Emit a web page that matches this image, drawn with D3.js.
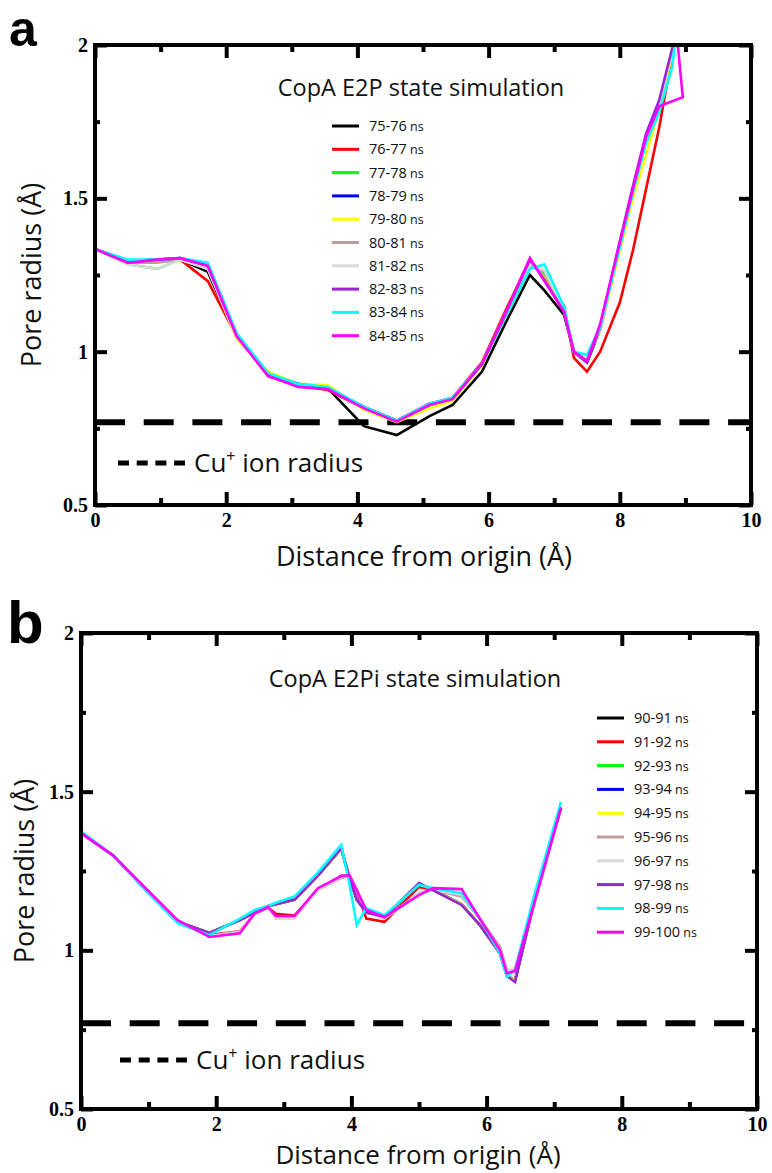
<!DOCTYPE html>
<html>
<head>
<meta charset="utf-8">
<script src="https://cdn.jsdelivr.net/npm/d3@7"></script>
<style>
  body { margin: 0; background: #fff; }
  svg { display: block; }
</style>
</head>
<body>
<svg id="chart" width="772" height="1173"></svg>
<script>
// ---- data ----
const colors = ["#000000", "#ff0000", "#00ff00", "#0000ff", "#ffff00",
                "#c09c9a", "#d9d9d9", "#9a22d8", "#00ffff", "#ff00ff"];
const cuRadius = 0.77;

const labelsA = ["75-76", "76-77", "77-78", "78-79", "79-80", "80-81", "81-82", "82-83", "83-84", "84-85"];
const xA = [0, 0.5, 0.95, 1.3, 1.72, 2.16, 2.64, 3.1, 3.55, 4.1, 4.6, 5.1, 5.45, 5.9, 6.25,
            6.63, 6.85, 7.15, 7.3, 7.5, 7.7, 8.0, 8.2, 8.4, 8.6, 8.8, 9.0];
const a75 = [1.335, 1.295, 1.30, 1.30, 1.26, 1.05, 0.925, 0.895, 0.88, 0.757, 0.728, 0.79, 0.826, 0.935, 1.09,
             1.25, 1.2, 1.12, 1.0, 0.965, 1.07, 1.34, 1.52, 1.69, 1.81, 1.98, 2.2];
const a76 = [1.335, 1.295, 1.30, 1.30, 1.23, 1.05, 0.92, 0.89, 0.875, 0.815, 0.775, 0.83, 0.85, 0.965, 1.13,
             1.30, 1.24, 1.15, 0.98, 0.935, 1.0, 1.16, 1.33, 1.53, 1.73, 1.97, 2.2];
const a77 = [1.335, 1.285, 1.27, 1.30, 1.28, 1.05, 0.925, 0.89, 0.88, 0.815, 0.775, 0.825, 0.845, 0.96, 1.12,
             1.29, 1.25, 1.13, 1.0, 0.975, 1.07, 1.35, 1.52, 1.69, 1.81, 1.98, 2.2];
const a78 = [1.335, 1.29, 1.30, 1.305, 1.28, 1.055, 0.925, 0.89, 0.88, 0.82, 0.775, 0.83, 0.848, 0.96, 1.12,
             1.30, 1.24, 1.13, 1.0, 0.97, 1.08, 1.35, 1.53, 1.70, 1.81, 1.98, 2.2];
const a79 = [1.335, 1.29, 1.295, 1.30, 1.275, 1.04, 0.935, 0.895, 0.89, 0.81, 0.77, 0.815, 0.84, 0.955, 1.12,
             1.30, 1.24, 1.13, 1.0, 0.975, 1.07, 1.33, 1.50, 1.64, 1.79, 1.97, 2.2];
const a80 = [1.335, 1.29, 1.29, 1.30, 1.27, 1.05, 0.925, 0.89, 0.88, 0.815, 0.775, 0.83, 0.848, 0.96, 1.12,
             1.28, 1.26, 1.14, 1.0, 0.975, 1.07, 1.35, 1.52, 1.69, 1.81, 1.98, 2.2];
const a81 = [1.335, 1.285, 1.27, 1.30, 1.27, 1.045, 0.925, 0.89, 0.88, 0.815, 0.775, 0.83, 0.848, 0.96, 1.12,
             1.285, 1.265, 1.14, 1.0, 0.975, 1.07, 1.35, 1.52, 1.69, 1.81, 1.98, 2.2];
const a82 = [1.335, 1.29, 1.30, 1.305, 1.28, 1.055, 0.925, 0.895, 0.88, 0.82, 0.775, 0.83, 0.848, 0.96, 1.12,
             1.30, 1.235, 1.13, 1.0, 0.965, 1.08, 1.36, 1.54, 1.71, 1.82, 1.99, 2.2];
const a83 = [1.335, 1.30, 1.30, 1.305, 1.29, 1.06, 0.93, 0.895, 0.885, 0.82, 0.775, 0.83, 0.85, 0.96, 1.11,
             1.27, 1.285, 1.146, 1.0, 0.99, 1.08, 1.34, 1.52, 1.68, 1.78, 1.93, 2.3];
const a84 = [1.335, 1.29, 1.30, 1.305, 1.28, 1.05, 0.92, 0.885, 0.878, 0.815, 0.772, 0.826, 0.845, 0.96, 1.12,
             1.305, 1.23, 1.13, 1.0, 0.97, 1.09, 1.356, 1.53, 1.70, 1.80, null, null];
// the last profile folds back on itself near the mouth
const a84tail = [[8.96, 1.83], [8.84, 2.1]];
const seriesA = [a75, a76, a77, a78, a79, a80, a81, a82, a83, a84];
const tailsA = [null, null, null, null, null, null, null, null, null, a84tail];

const labelsB = ["90-91", "91-92", "92-93", "93-94", "94-95", "95-96", "96-97", "97-98", "98-99", "99-100"];
const xB = [0, 0.47, 0.95, 1.43, 1.9, 2.35, 2.57, 2.77, 2.88, 3.16, 3.5, 3.85, 3.97, 4.08, 4.22,
            4.49, 5.0, 5.21, 5.63, 5.9, 6.2, 6.3, 6.42, 6.7, 7.1];
const b90 = [1.37, 1.30, 1.195, 1.09, 1.055, 1.095, 1.12, 1.14, 1.145, 1.16, 1.235, 1.32, 1.23, 1.16, 1.12,
             1.105, 1.21, 1.19, 1.145, 1.08, 0.99, 0.92, 0.905, 1.15, 1.45];
const b91 = [1.37, 1.30, 1.195, 1.09, 1.048, 1.06, 1.115, 1.135, 1.115, 1.11, 1.19, 1.235, 1.235, 1.19, 1.10,
             1.09, 1.2, 1.19, 1.175, 1.10, 1.0, 0.93, 0.935, 1.15, 1.45];
const b92 = [1.37, 1.30, 1.195, 1.09, 1.055, 1.095, 1.12, 1.14, 1.145, 1.16, 1.235, 1.32, 1.23, 1.16, 1.12,
             1.105, 1.21, 1.19, 1.145, 1.08, 0.99, 0.92, 0.905, 1.15, 1.45];
const b93 = [1.37, 1.30, 1.195, 1.09, 1.055, 1.095, 1.12, 1.14, 1.145, 1.16, 1.235, 1.32, 1.23, 1.16, 1.12,
             1.105, 1.21, 1.19, 1.145, 1.08, 0.99, 0.92, 0.905, 1.15, 1.45];
const b94 = [1.37, 1.30, 1.195, 1.09, 1.055, 1.095, 1.12, 1.14, 1.145, 1.16, 1.235, 1.32, 1.23, 1.16, 1.12,
             1.105, 1.21, 1.19, 1.145, 1.08, 0.99, 0.92, 0.905, 1.15, 1.45];
const b95 = [1.37, 1.30, 1.197, 1.093, 1.045, 1.06, 1.115, 1.135, 1.105, 1.105, 1.19, 1.228, 1.235, 1.19, 1.125,
             1.10, 1.18, 1.19, 1.17, 1.10, 1.01, 0.94, 0.93, 1.14, 1.45];
const b96 = [1.37, 1.30, 1.197, 1.093, 1.045, 1.058, 1.115, 1.14, 1.10, 1.10, 1.19, 1.23, 1.24, 1.19, 1.12,
             1.10, 1.18, 1.19, 1.175, 1.10, 1.0, 0.935, 0.94, 1.14, 1.45];
const b97 = [1.37, 1.30, 1.195, 1.09, 1.055, 1.095, 1.12, 1.14, 1.145, 1.16, 1.235, 1.322, 1.23, 1.16, 1.12,
             1.105, 1.212, 1.19, 1.143, 1.08, 0.99, 0.92, 0.90, 1.15, 1.45];
const b98 = [1.375, 1.30, 1.19, 1.086, 1.048, 1.10, 1.127, 1.14, 1.15, 1.17, 1.244, 1.332, 1.21, 1.08, 1.133,
             1.111, 1.206, 1.196, 1.18, 1.10, 0.99, 0.916, 0.938, 1.17, 1.467];
const b99 = [1.37, 1.30, 1.197, 1.095, 1.042, 1.054, 1.117, 1.136, 1.108, 1.108, 1.195, 1.234, 1.237, 1.189, 1.127,
             1.105, 1.174, 1.196, 1.193, 1.10, 1.0, 0.928, 0.935, 1.145, 1.45];
const seriesB = [b90, b91, b92, b93, b94, b95, b96, b97, b98, b99];
const tailsB = [];

const xMajor = [0, 2, 4, 6, 8, 10];
const xMinor = [1, 3, 5, 7, 9];
const yMajor = [0.5, 1, 1.5, 2];
const yMinor = [0.75, 1.25, 1.75];

// ---- drawing ----
const svg = d3.select("#chart");
const SANS = "'Open Sans', 'Noto Sans', sans-serif";
const SERIF = "'Liberation Serif', 'Times New Roman', serif";

function tickAxis(g, axisFn, scale, vals, size, labels, transform) {
    const a = axisFn(scale)
        .tickValues(vals)
        .tickSizeInner(-size)
        .tickSizeOuter(0)
        .tickPadding(8)
        .tickFormat(labels ? d => String(d) : "");
    const s = g.append("g").attr("transform", transform).call(a);
    s.select(".domain").remove();
    s.selectAll("line").attr("stroke", "#000").attr("stroke-width", 4);
    s.selectAll("text")
        .attr("font-family", SERIF)
        .attr("font-weight", "bold")
        .attr("font-size", 20)
        .attr("fill", "#000");
    return s;
}

function drawPanel(p) {
    const x = d3.scaleLinear().domain([0, 10]).range([p.l, p.r]);
    const y = d3.scaleLinear().domain([0.5, 2]).range([p.b, p.t]);
    const g = svg.append("g");

    g.append("clipPath").attr("id", "clip-" + p.id)
        .append("rect")
        .attr("x", p.l).attr("y", p.t)
        .attr("width", p.r - p.l).attr("height", p.b - p.t);

    // Cu+ radius reference
    g.append("line")
        .attr("x1", p.l).attr("x2", p.r)
        .attr("y1", y(cuRadius)).attr("y2", y(cuRadius))
        .attr("stroke", "#000")
        .attr("stroke-width", 6)
        .attr("stroke-dasharray", "30,18.7");

    const line = d3.line().x(d => x(d[0])).y(d => y(d[1]));
    const lines = g.append("g").attr("clip-path", `url(#clip-${p.id})`);
    p.series.forEach((vals, i) => {
        let pts = p.xs.map((xv, j) => [xv, vals[j]]).filter(d => d[1] != null);
        if (p.tails[i]) pts = pts.concat(p.tails[i]);
        lines.append("path")
            .attr("d", line(pts))
            .attr("fill", "none")
            .attr("stroke", colors[i])
            .attr("stroke-width", 2.6);
    });

    // ticks on all four sides, pointing in
    tickAxis(g, d3.axisBottom, x, xMajor, 13, true, `translate(0,${p.b})`);
    tickAxis(g, d3.axisBottom, x, xMinor, 7, false, `translate(0,${p.b})`);
    tickAxis(g, d3.axisTop, x, xMajor, 13, false, `translate(0,${p.t})`);
    tickAxis(g, d3.axisTop, x, xMinor, 7, false, `translate(0,${p.t})`);
    tickAxis(g, d3.axisLeft, y, yMajor, 12, true, `translate(${p.l},0)`)
        .selectAll("text").attr("dx", 1);
    tickAxis(g, d3.axisLeft, y, yMinor, 5, false, `translate(${p.l},0)`);
    tickAxis(g, d3.axisRight, y, yMajor, 12, false, `translate(${p.r},0)`);
    tickAxis(g, d3.axisRight, y, yMinor, 5, false, `translate(${p.r},0)`);

    g.append("rect")
        .attr("x", p.l).attr("y", p.t)
        .attr("width", p.r - p.l).attr("height", p.b - p.t)
        .attr("fill", "none")
        .attr("stroke", "#000")
        .attr("stroke-width", 4);

    // title
    g.append("text")
        .attr("x", p.titleX).attr("y", p.titleY)
        .attr("text-anchor", "middle")
        .attr("font-family", SANS)
        .attr("font-size", 23.5)
        .attr("fill", "#111")
        .text(p.title);

    // legend
    const leg = g.append("g");
    p.labels.forEach((lab, i) => {
        const ly = p.legY + i * p.legDy;
        leg.append("line")
            .attr("x1", p.legX).attr("x2", p.legX + 27)
            .attr("y1", ly).attr("y2", ly)
            .attr("stroke", colors[i])
            .attr("stroke-width", 3);
        const t = leg.append("text")
            .attr("x", p.legX + 37).attr("y", ly + 5)
            .attr("font-family", SANS)
            .attr("fill", "#111");
        t.append("tspan").attr("font-size", 14.5).text(lab);
        t.append("tspan").attr("font-size", 12.5).text(" ns");
    });

    // Cu+ legend
    g.append("line")
        .attr("x1", p.cuX).attr("x2", p.cuX + 67)
        .attr("y1", p.cuY).attr("y2", p.cuY)
        .attr("stroke", "#000")
        .attr("stroke-width", 5)
        .attr("stroke-dasharray", "11,7.7");
    const cu = g.append("text")
        .attr("x", p.cuX + 76).attr("y", p.cuY + 9)
        .attr("font-family", SANS)
        .attr("font-size", 26)
        .attr("fill", "#111");
    cu.append("tspan").text("Cu");
    cu.append("tspan").attr("font-size", 16).attr("dy", -10).text("+");
    cu.append("tspan").attr("dy", 10).text(" ion radius");

    // axis titles
    g.append("text")
        .attr("transform", `translate(${p.yTitleX},${(p.t + p.b) / 2}) rotate(-90)`)
        .attr("text-anchor", "middle")
        .attr("font-family", SANS)
        .attr("font-size", 27)
        .attr("fill", "#111")
        .text("Pore radius (Å)");
    g.append("text")
        .attr("x", p.xTitleX).attr("y", p.xTitleY)
        .attr("text-anchor", "middle")
        .attr("font-family", SANS)
        .attr("font-size", p.xTitleSize)
        .attr("fill", "#111")
        .text("Distance from origin (Å)");

    // panel letter
    g.append("text")
        .attr("x", p.letterX).attr("y", p.letterY)
        .attr("font-family", "'Liberation Sans', Arial, sans-serif")
        .attr("font-weight", "bold")
        .attr("font-size", p.letterSize)
        .attr("fill", "#000")
        .text(p.letter);
}

drawPanel({
    id: "a", letter: "a", letterX: 9, letterY: 46, letterSize: 50,
    l: 95, r: 751, t: 45, b: 505,
    xs: xA, series: seriesA, tails: tailsA, labels: labelsA,
    title: "CopA E2P state simulation", titleX: 421, titleY: 96,
    legX: 332, legY: 126, legDy: 23.3,
    cuX: 118, cuY: 463,
    yTitleX: 41, xTitleX: 424, xTitleY: 566, xTitleSize: 27
});

drawPanel({
    id: "b", letter: "b", letterX: 7, letterY: 643, letterSize: 60,
    l: 81, r: 757, t: 633, b: 1109,
    xs: xB, series: seriesB, tails: tailsB, labels: labelsB,
    title: "CopA E2Pi state simulation", titleX: 415, titleY: 687,
    legX: 597, legY: 718, legDy: 23.8,
    cuX: 120, cuY: 1060,
    yTitleX: 34, xTitleX: 418, xTitleY: 1164, xTitleSize: 26
});
</script>
</body>
</html>
